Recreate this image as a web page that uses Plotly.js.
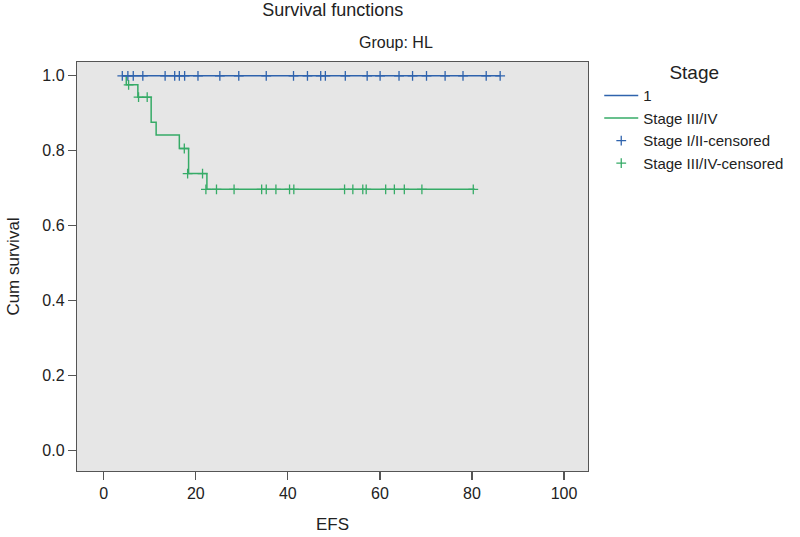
<!DOCTYPE html>
<html>
<head>
<meta charset="utf-8">
<script src="https://cdn.plot.ly/plotly-3.0.1.min.js"></script>
<style>html,body{margin:0;padding:0;background:#fff;}#chart{width:800px;height:537px;}</style>
</head>
<body>
<div id="chart"></div>
<script>
// ---- Data ----
const seriesNames = ["1", "Stage III/IV", "Stage I/II-censored", "Stage III/IV-censored"];

// Stage I/II: no events, survival stays at 1.0
const blueSurvival = 1.0;
const blueCensorTimes = [4.04, 5.25, 6.42, 8.50, 13.34, 15.42, 16.43, 17.58, 20.48, 25.23, 29.34,
  35.31, 41.23, 44.26, 47.14, 48.15, 52.48, 57.23, 60.04, 64.15, 67.09, 70.12, 74.16, 78.05, 83.09, 86.12];

// Stage III/IV: event times and survival after each event
const greenEventTimes = [4.91, 7.42, 10.31, 11.39, 16.43, 18.44, 22.42];
const greenEventSurv  = [0.976, 0.943, 0.876, 0.842, 0.806, 0.739, 0.697];
const greenEndTime = 80.6;
const greenCensorTimes = [5.41, 7.57, 9.45, 17.51, 18.23, 21.47, 22.2, 24.5, 28.32, 34.31, 35.31,
  37.41, 40.37, 41.30, 52.32, 54.12, 56.28, 57.02, 61.25, 63.14, 65.30, 69.12, 80.28];
const greenCensorSurv = [0.976, 0.943, 0.943, 0.806, 0.739, 0.739, 0.697, 0.697, 0.697, 0.697, 0.697,
  0.697, 0.697, 0.697, 0.697, 0.697, 0.697, 0.697, 0.697, 0.697, 0.697, 0.697, 0.697];

const xTicks = [0, 20, 40, 60, 80, 100];
const yTicks = [0.0, 0.2, 0.4, 0.6, 0.8, 1.0];

// ---- Build traces ----
const blue = "#2f63ad", green = "#36ab67";

const blueLineX = [blueCensorTimes[0], blueCensorTimes[blueCensorTimes.length - 1]];
const blueLineY = [blueSurvival, blueSurvival];

const greenLineX = [greenEventTimes[0]].concat(greenEventTimes, [greenEndTime]);
const greenLineY = [1.0].concat(greenEventSurv, [greenEventSurv[greenEventSurv.length - 1]]);

const traces = [
  {x: blueLineX, y: blueLineY, name: seriesNames[0], mode: "lines",
   line: {color: blue, width: 1.5, shape: "hv"}},
  {x: greenLineX, y: greenLineY, name: seriesNames[1], mode: "lines",
   line: {color: green, width: 1.5, shape: "hv"}},
  {x: blueCensorTimes, y: blueCensorTimes.map(() => blueSurvival), name: seriesNames[2], mode: "markers",
   marker: {symbol: "cross-thin-open", size: 7, color: blue, line: {color: blue, width: 1.3}}},
  {x: greenCensorTimes, y: greenCensorSurv, name: seriesNames[3], mode: "markers",
   marker: {symbol: "cross-thin-open", size: 7, color: green, line: {color: green, width: 1.3}}}
];

const font = "Liberation Sans, Arial, Helvetica, sans-serif";

const layout = {
  width: 800, height: 537,
  margin: {l: 77, r: 211, t: 62, b: 66},
  paper_bgcolor: "#ffffff",
  plot_bgcolor: "#e6e6e6",
  font: {family: font, size: 16, color: "#222"},
  showlegend: true,
  title: {text: "Survival functions", x: 0.416, xanchor: "center", y: 0.982, yanchor: "middle",
          font: {family: font, size: 18, color: "#222"}},
  xaxis: {
    range: [-5.8, 105.2], tickvals: xTicks, ticktext: xTicks.map(String),
    showgrid: false, zeroline: false, showline: true, mirror: true,
    linecolor: "#555", linewidth: 1.2, ticks: "outside", ticklen: 8, tickcolor: "#555", tickwidth: 1.2,
    tickfont: {family: font, size: 16, color: "#222"},
    title: {text: "EFS", standoff: 16, font: {family: font, size: 17, color: "#222"}}
  },
  yaxis: {
    range: [-0.055, 1.037], tickvals: yTicks, ticktext: yTicks.map(v => v.toFixed(1)),
    showgrid: false, zeroline: false, showline: true, mirror: true,
    linecolor: "#555", linewidth: 1.2, ticks: "outside", ticklen: 8, tickcolor: "#555", tickwidth: 1.2,
    tickfont: {family: font, size: 16, color: "#222"},
    title: {text: "Cum survival", standoff: 18, font: {family: font, size: 17, color: "#222"}}
  },
  legend: {
    x: 1.02, xanchor: "left", y: 1.018, yanchor: "top",
    bgcolor: "rgba(0,0,0,0)", borderwidth: 0,
    font: {family: font, size: 15, color: "#222"},
    title: {text: "Stage", side: "top center", font: {family: font, size: 19, color: "#222"}},
    tracegroupgap: 0, itemwidth: 34
  },
  annotations: [
    {text: "Group: HL", xref: "paper", yref: "paper", x: 0.625, y: 1.0, yshift: 20,
     xanchor: "center", yanchor: "middle", showarrow: false,
     font: {family: font, size: 16, color: "#222"}}
  ]
};

Plotly.newPlot("chart", traces, layout, {displayModeBar: false, staticPlot: true});
</script>
</body>
</html>
